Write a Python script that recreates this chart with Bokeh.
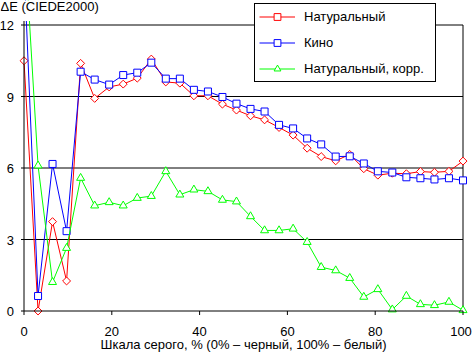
import math
from bokeh.plotting import figure
from bokeh.models import Range1d, Legend, LegendItem
from bokeh.core.properties import value
from bokeh.embed import file_html
from bokeh.resources import INLINE

# ---- data ----
gray = [0, 3.2, 6.5, 9.7, 12.9, 16.1, 19.4, 22.6, 25.8, 29.0, 32.3, 35.5, 38.7, 41.9,
        45.2, 48.4, 51.6, 54.8, 58.1, 61.3, 64.5, 67.7, 71.0, 74.2, 77.4, 80.6, 83.9,
        87.1, 90.3, 93.5, 96.8, 100]
natural = [10.5, 0.0, 3.75, 1.26, 10.39, 8.92, 9.40, 9.52, 9.77, 10.57, 9.61, 9.56,
           9.03, 9.03, 8.68, 8.43, 8.19, 8.02, 7.70, 7.38, 6.83, 6.48, 6.30, 6.57,
           5.97, 5.70, 5.78, 5.76, 5.85, 5.82, 5.86, 6.29]
cinema = [14.5, 0.63, 6.17, 3.35, 10.04, 9.71, 9.50, 9.90, 10.0, 10.42, 9.75, 9.75,
          9.28, 9.21, 8.98, 8.70, 8.48, 8.37, 7.81, 7.66, 7.24, 6.99, 6.48, 6.49,
          6.19, 5.86, 5.81, 5.61, 5.57, 5.52, 5.57, 5.48]
natural_corr = [16.0, 6.10, 1.21, 2.64, 5.58, 4.42, 4.56, 4.42, 4.74, 4.82, 5.86, 4.88,
                5.09, 5.02, 4.66, 4.59, 3.97, 3.38, 3.38, 3.45, 2.89, 1.84, 1.70, 1.38,
                0.59, 0.91, 0.06, 0.63, 0.28, 0.24, 0.38, 0.03]
series_names = ["Натуральный", "Кино", "Натуральный, корр."]
x_ticks = [0, 20, 40, 60, 80, 100]
y_ticks = [0, 3, 6, 9, 12]
grid_levels = [3, 6, 9, 12]
y_title = "ΔE (CIEDE2000)"
x_title = "Шкала серого, % (0% – черный, 100% – белый)"

# ---- layout (pixels) ----
W, H = 472, 353
LEFT_PX, RIGHT_PX = 23.5, 462.5       # x = 0 and x = 100
BOTTOM_PX, TOP_PX = 310.5, 24.5       # y = 0 and y = 12
PX_X = (RIGHT_PX - LEFT_PX) / (x_ticks[-1] - x_ticks[0])
PX_Y = (BOTTOM_PX - TOP_PX) / (y_ticks[-1] - y_ticks[0])
X0 = x_ticks[0] - LEFT_PX / PX_X
X1 = X0 + W / PX_X
Y0 = y_ticks[0] - (H - BOTTOM_PX) / PX_Y
Y1 = Y0 + H / PX_Y

FONT = value("Liberation Sans")
FS = value("13px")

p = figure(width=W, height=H, x_range=Range1d(X0, X1), y_range=Range1d(Y0, Y1),
           x_axis_location=None, y_axis_location=None, title=None,
           min_border=0, min_border_left=0, min_border_right=0,
           min_border_top=0, min_border_bottom=0,
           output_backend="svg", toolbar_location=None)
p.background_fill_color = "white"
p.border_fill_color = "white"
p.outline_line_color = None
p.grid.visible = False

xmin, xmax = x_ticks[0], x_ticks[-1]
ymin, ymax = y_ticks[0], y_ticks[-1]

# horizontal grid lines
p.segment(x0=xmin, x1=xmax, y0=grid_levels, y1=grid_levels, line_color="black", line_width=1)
# right frame border
p.segment(x0=xmax, x1=xmax, y0=ymin, y1=ymax, line_color="black", line_width=1)

# series
r_red_l = p.line(gray, natural, line_color="#ff0000", line_width=1)
r_red_m = p.scatter(gray, natural, marker="square", angle=math.pi / 4, size=5.6,
                    line_color="#ff0000", fill_color="white", line_width=1)
r_blue_l = p.line(gray, cinema, line_color="#0000ff", line_width=1)
r_blue_m = p.scatter(gray, cinema, marker="square", size=7,
                     line_color="#0000ff", fill_color="white", line_width=1)
r_grn_l = p.line(gray, natural_corr, line_color="#00ff00", line_width=1)
r_grn_m = p.scatter(gray, natural_corr, marker="triangle", size=8,
                    line_color="#00ff00", fill_color="white", line_width=1)

# the plot area ends a few pixels above the 12 line: mask what lies beyond it
clip_top = ymax + 4 / PX_Y
p.quad(left=X0, right=X1, bottom=clip_top, top=Y1, fill_color="white", line_color=None)

# axes lines and ticks
p.segment(x0=xmin, x1=xmax, y0=ymin, y1=ymin, line_color="black", line_width=1)
p.segment(x0=xmin, x1=xmin, y0=ymin, y1=clip_top, line_color="black", line_width=1)
p.segment(x0=x_ticks, x1=x_ticks, y0=ymin, y1=ymin - 4 / PX_Y, line_color="black", line_width=1)
p.segment(x0=xmin, x1=xmin - 3 / PX_X, y0=y_ticks, y1=y_ticks, line_color="black", line_width=1)

# tick labels (the last one is nudged so it stays inside the window)
x_label_nudge = [0] * (len(x_ticks) - 1) + [-2]
p.text(x=x_ticks, y=ymin, text=[str(t) for t in x_ticks], x_offset=x_label_nudge,
       y_offset=20, text_align="center", text_baseline="middle",
       text_font=FONT, text_font_size=FS, text_color="black")
p.text(x=xmin, y=y_ticks, text=[str(t) for t in y_ticks], x_offset=-10, y_offset=0.5,
       text_align="right", text_baseline="middle",
       text_font=FONT, text_font_size=FS, text_color="black")

# axis titles
p.text(x=(xmin + xmax) / 2, y=ymin, text=[x_title], y_offset=33.5,
       text_align="center", text_baseline="middle",
       text_font=FONT, text_font_size=FS, text_color="black")
p.text(x=xmin, y=ymax, text=[y_title], x_offset=-23.5, y_offset=-19,
       text_align="left", text_baseline="middle",
       text_font=FONT, text_font_size=FS, text_color="black")

legend = Legend(items=[
    LegendItem(label=series_names[0], renderers=[r_red_l, r_red_m]),
    LegendItem(label=series_names[1], renderers=[r_blue_l, r_blue_m]),
    LegendItem(label=series_names[2], renderers=[r_grn_l, r_grn_m]),
], location=(254, H - 82))
legend.margin = 0
legend.padding = 4
legend.spacing = 9
legend.label_height = 17
legend.glyph_height = 17
legend.glyph_width = 36
legend.label_standoff = 9
legend.label_width = 127
legend.border_line_color = "black"
legend.border_line_width = 1
legend.border_line_alpha = 1
legend.background_fill_color = "white"
legend.background_fill_alpha = 1
legend.label_text_font = "Liberation Sans"
legend.label_text_font_size = "13px"
legend.label_text_color = "black"
p.add_layout(legend, "center")

open("out.html", "w").write(file_html(p, INLINE))
